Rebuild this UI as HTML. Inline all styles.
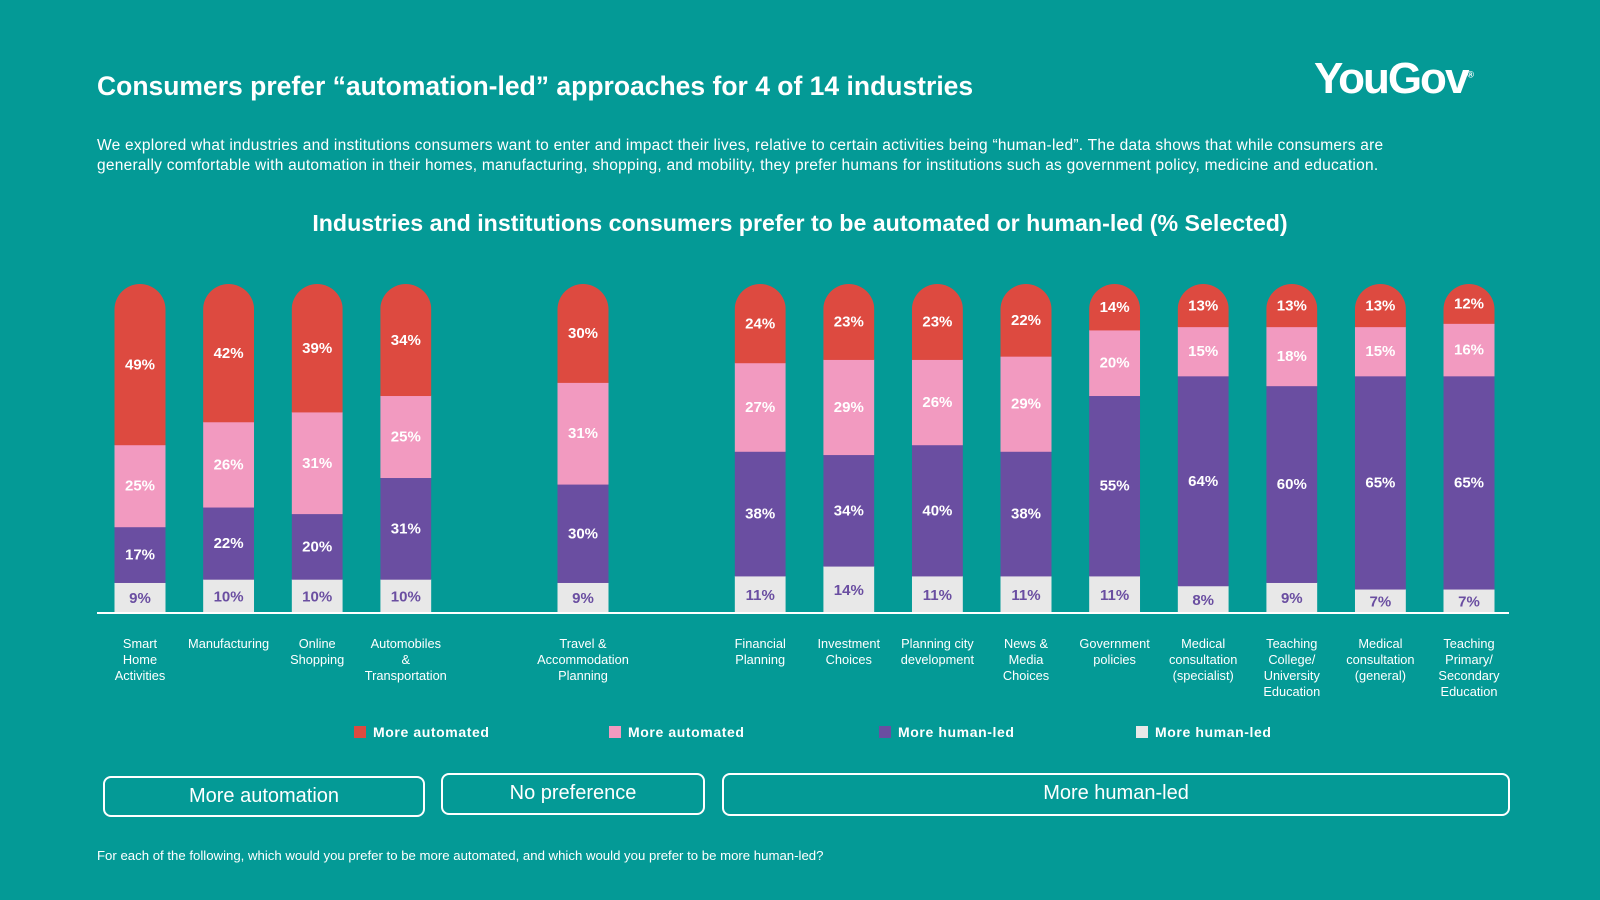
<!DOCTYPE html>
<html><head><meta charset="utf-8"><style>
body{margin:0;width:1600px;height:900px;background:#049a96;font-family:"Liberation Sans",Arial,sans-serif;color:#fff;overflow:hidden;position:relative}
.abs{position:absolute}
.box{position:absolute;border:2.5px solid #fff;border-radius:8px;box-sizing:border-box;text-align:center;font-size:20px;line-height:36px}
.cat{position:absolute;font-size:12.8px;text-align:center;width:100px;line-height:16px}
.leg{position:absolute;top:724px;font-size:14px;font-weight:bold;letter-spacing:0.6px}
.leg span{display:inline-block;width:12px;height:12px;margin-right:7px;vertical-align:-1px}
</style></head><body>
<div class="abs" style="left:97px;top:71px;font-size:26.5px;font-weight:bold">Consumers prefer “automation-led” approaches for 4 of 14 industries</div>
<div class="abs" style="left:1314px;top:54px;font-size:44px;font-weight:bold;letter-spacing:-2px">YouGov<sup style="font-size:9px;letter-spacing:0">®</sup></div>
<div class="abs" style="left:97px;top:136px;width:1350px;font-size:15.5px;letter-spacing:0.25px;line-height:20px">We explored what industries and institutions consumers want to enter and impact their lives, relative to certain activities being “human-led”. The data shows that while consumers are generally comfortable with automation in their homes, manufacturing, shopping, and mobility, they prefer humans for institutions such as government policy, medicine and education.</div>
<div class="abs" style="left:0;width:1600px;text-align:center;top:210px;font-size:23.2px;font-weight:bold">Industries and institutions consumers prefer to be automated or human-led (% Selected)</div>
<svg id="chart" class="abs" style="left:0;top:0" width="1600" height="900"></svg>
<div class="leg" style="left:354px"><span style="background:#dd4a40"></span>More automated</div>
<div class="leg" style="left:609px"><span style="background:#f29ac0"></span>More automated</div>
<div class="leg" style="left:879px"><span style="background:#6a4ea1"></span>More human-led</div>
<div class="leg" style="left:1136px"><span style="background:#e8e8e8"></span>More human-led</div>
<div class="box" style="left:103px;top:776px;width:322px;height:41px">More automation</div>
<div class="box" style="left:441px;top:773px;width:264px;height:42px">No preference</div>
<div class="box" style="left:722px;top:773px;width:788px;height:43px">More human-led</div>
<div class="abs" style="left:97px;top:848px;font-size:13.2px">For each of the following, which would you prefer to be more automated, and which would you prefer to be more human-led?</div>
<div id="cats"></div>
<script>
const categories=["Smart<br>Home<br>Activities","Manufacturing","Online<br>Shopping","Automobiles<br>&amp;<br>Transportation","Travel &amp;<br>Accommodation<br>Planning","Financial<br>Planning","Investment<br>Choices","Planning city<br>development","News &amp;<br>Media<br>Choices","Government<br>policies","Medical<br>consultation<br>(specialist)","Teaching<br>College/<br>University<br>Education","Medical<br>consultation<br>(general)","Teaching<br>Primary/<br>Secondary<br>Education"];
const humanLight=[9,10,10,10,9,11,14,11,11,11,8,9,7,7];
const humanPurple=[17,22,20,31,30,38,34,40,38,55,64,60,65,65];
const autoPink=[25,26,31,25,31,27,29,26,29,20,15,18,15,16];
const autoRed=[49,42,39,34,30,24,23,23,22,14,13,13,13,12];
const slots=[0,1,2,3,5,7,8,9,10,11,12,13,14,15];
const x0=140,slotW=88.6,base=612,H=328,bw=51;
const xPos=i=>x0+slots[i]*slotW;
const yScale=v=>v/100*H;
const svg=document.getElementById('chart');const NS='http://www.w3.org/2000/svg';
const series=[[humanLight,'#e8e8e8','#6a4ea1','light'],[humanPurple,'#6a4ea1','#fff','purple'],[autoPink,'#f29ac0','#fff','pink'],[autoRed,'#dd4a40','#fff','red']];
categories.forEach((c,i)=>{
  let cum=0;const cx=xPos(i);
  const total=series.reduce((s,se)=>s+se[0][i],0);
  const g=document.createElementNS(NS,'g');
  
  
  const cp=document.createElementNS(NS,'clipPath');cp.id='cp'+i;
  const cr=document.createElementNS(NS,'rect');
  cr.setAttribute('x',cx-bw/2);cr.setAttribute('y',base-yScale(total));cr.setAttribute('width',bw);cr.setAttribute('height',yScale(total)+bw);cr.setAttribute('rx',bw/2);
  cp.appendChild(cr);svg.appendChild(cp);
  g.setAttribute('clip-path','url(#cp'+i+')');
  svg.appendChild(g);
  series.forEach(se=>{
    const v=se[0][i];const h=yScale(v);const y=base-yScale(cum)-h;
    const r=document.createElementNS(NS,'rect');
    
    
    r.setAttribute('x',cx-bw/2);r.setAttribute('y',y);r.setAttribute('width',bw);r.setAttribute('height',h+0.5);r.setAttribute('fill',se[1]);
    g.appendChild(r);
    const t=document.createElementNS(NS,'text');
    
    
    t.setAttribute('x',cx);t.setAttribute('y',(se[3]==='light'?y+h/2+6:y+h/2+5));t.setAttribute('text-anchor','middle');
    t.setAttribute('font-size','15');t.setAttribute('font-weight','bold');t.setAttribute('fill',se[2]);t.setAttribute('font-family','Liberation Sans, sans-serif');
    t.textContent=v+'%';svg.appendChild(t);
    cum+=v;
  });
  const d=document.createElement('div');d.className='cat';d.innerHTML=c;
  
  
  d.style.left=(cx-50)+'px';d.style.top='636px';
  document.getElementById('cats').appendChild(d);
});
const ax=document.createElementNS(NS,'line');


ax.setAttribute('x1',97);ax.setAttribute('x2',1509);ax.setAttribute('y1',base+1);ax.setAttribute('y2',base+1);ax.setAttribute('stroke','#fff');ax.setAttribute('stroke-width',2);
svg.appendChild(ax);
</script>
</body></html>
